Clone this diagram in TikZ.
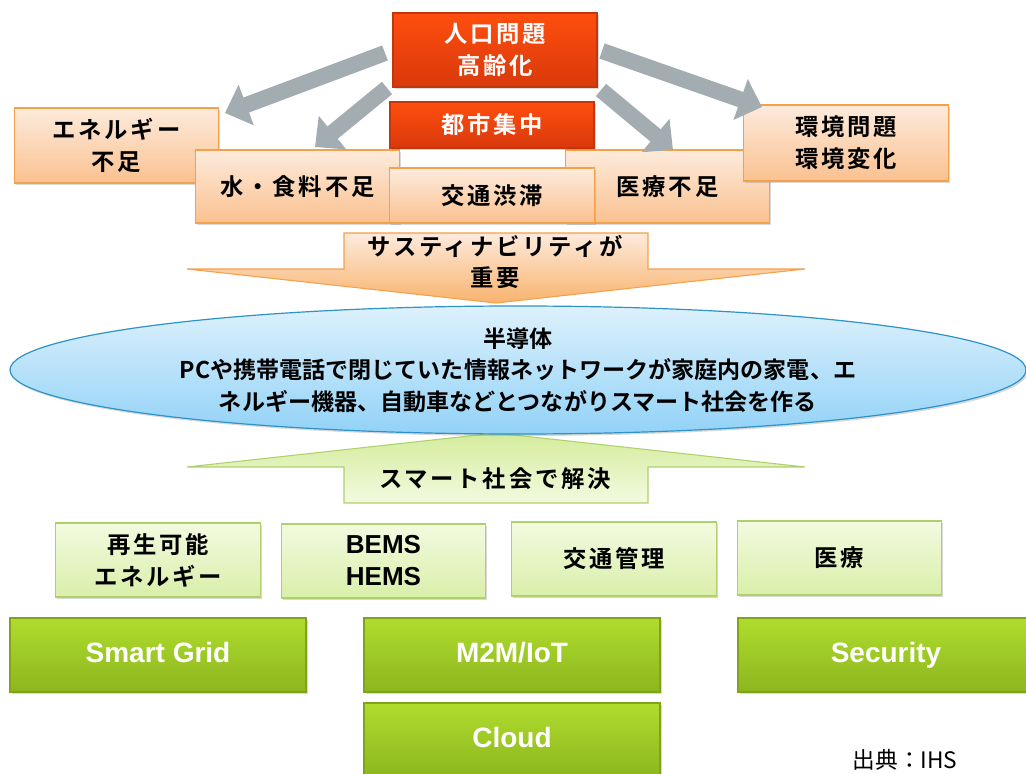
\documentclass[tikz,border=0pt]{standalone}
\usepackage{fontspec}
\setmainfont{Liberation Sans}
\newfontfamily\jp{Noto Sans CJK JP}
\newfontfamily\jpb{Noto Sans CJK JP Bold}
\newfontfamily\jpw{Noto Sans CJK JP Bold}[LetterSpace=12]
\usetikzlibrary{arrows.meta,shapes.geometric,shadows}
\definecolor{redT}{HTML}{FF4E0E}
\definecolor{redB}{HTML}{D8390C}
\definecolor{redD}{HTML}{C0360E}
\definecolor{orT}{HTML}{FDEBDC}
\definecolor{orB}{HTML}{FAC190}
\definecolor{orD}{HTML}{F5A04A}
\definecolor{orA}{HTML}{F8B36E}
\definecolor{lgT}{HTML}{F3FAE0}
\definecolor{lgB}{HTML}{D9EFAA}
\definecolor{lgD}{HTML}{AFD16B}
\definecolor{lgA}{HTML}{D4EC9C}
\definecolor{dgT}{HTML}{B0DC2E}
\definecolor{dgB}{HTML}{8CB61E}
\definecolor{dgD}{HTML}{7FA31B}
\definecolor{arrG}{HTML}{A3ACB0}
\definecolor{blT}{HTML}{DDF1FC}
\definecolor{blB}{HTML}{92D2F7}
\definecolor{blD}{HTML}{2D93C8}
\tikzset{
  base/.style={draw, line width=0.9pt, inner sep=0pt, align=center,
    drop shadow={shadow xshift=1.2pt, shadow yshift=-1.5pt, opacity=0.3}},
  redbox/.style={base, draw=redD, top color=redT, bottom color=redB, text=white,
    font=\jpw\fontsize{17.5}{24.5}\selectfont, minimum width=153pt},
  orbox/.style={base, draw=orD, top color=orT, bottom color=orB,
    font=\jpw\fontsize{17.5}{24}\selectfont, minimum width=153.5pt},
  lgbox/.style={base, draw=lgD, top color=lgT, bottom color=lgB,
    font=\jpw\fontsize{17.5}{24}\selectfont, minimum width=153.5pt, minimum height=55.5pt},
  dgbox/.style={base, draw=dgD, top color=dgT, bottom color=dgB, text=white,
    font=\bfseries\fontsize{21}{24}\selectfont, minimum width=222pt, minimum height=55.5pt,
    text height=15pt, text depth=4pt},
  latbox/.style={font=\bfseries\fontsize{19.5}{24}\selectfont},
  grayarrow/.style={draw=arrG, line width=12pt, -{Triangle[length=17pt,width=31.5pt]}},
  jptext/.style={font=\jpw\fontsize{17.5}{24}\selectfont, inner sep=0pt},
}
\begin{document}
\begin{tikzpicture}[x=0.75pt,y=-0.75pt]
\useasboundingbox (0,0) rectangle (1026,774);
\clip (0,0) rectangle (1026,774);

% orange problem boxes
\node[orbox, minimum height=56.25pt] (ene) at (116.5,145.5) {エネルギー\\不足};
\node[orbox, minimum height=54.75pt] (water) at (297.5,186.5) {水・食料不足};
\node[orbox, minimum height=54.75pt] (med) at (667.5,186.5) {医療不足};
\node[orbox, minimum height=41.25pt] (traffic) at (492,195.5) {交通渋滞};
\node[orbox, minimum height=57pt] (env) at (846,143) {環境問題\\環境変化};

% gray arrows
\coordinate (a1s) at (385,53);  \coordinate (a1e) at (225,113);
\coordinate (a2s) at (387,88);  \coordinate (a2e) at (315,147);
\coordinate (a3s) at (602,51);  \coordinate (a3e) at (762,107);
\coordinate (a4s) at (601,90);  \coordinate (a4e) at (673,150);
\draw[grayarrow] (a1s) -- (a1e);
\draw[grayarrow] (a2s) -- (a2e);
\draw[grayarrow] (a3s) -- (a3e);
\draw[grayarrow] (a4s) -- (a4e);

% red boxes
\node[redbox, minimum height=55.5pt] (pop) at (495,50) {人口問題\\高齢化};
\node[redbox, minimum height=34.5pt] (city) at (492,125) {都市集中};

% orange down arrow
\draw[draw=orD, line width=0.8pt, top color=orT, bottom color=orA]
  (344,233) -- (648,233) -- (648,269) -- (805,269) -- (496,303) -- (187,269) -- (344,269) -- cycle;
\node[jptext] (sus) at (495,246) {サスティナビリティが};
\node[jptext] (imp) at (495,278) {重要};

% green up arrow
\draw[draw=lgD, line width=0.8pt, top color=lgA, bottom color=lgT]
  (496,433) -- (805,467) -- (648,467) -- (648,503) -- (344,503) -- (344,467) -- (187,467) -- cycle;

% ellipse
\node[ellipse, draw=blD, line width=0.9pt, top color=blT, bottom color=blB,
  minimum width=762pt, minimum height=96pt, inner sep=0pt, align=center,
  drop shadow={shadow xshift=1.2pt, shadow yshift=-1.5pt, opacity=0.3},
  font=\jpb\fontsize{17.3}{23.5}\selectfont] (semi) at (518,370)
  {半導体\\PCや携帯電話で閉じていた情報ネットワークが家庭内の家電、エ\\ネルギー機器、自動車などとつながりスマート社会を作る};

\node[jptext] (smart) at (495,479) {スマート社会で解決};

% light green boxes
\node[lgbox] (ren) at (158,560) {再生可能\\エネルギー};
\node[lgbox, latbox] (bems) at (383.5,561) {BEMS\\HEMS};
\node[lgbox] (tman) at (614,559) {交通管理};
\node[lgbox] (iryo) at (839.5,558) {医療};

% dark green boxes
\node[dgbox] (sg) at (158,655) {Smart Grid};
\node[dgbox] (m2m) at (512,655) {M2M/IoT};
\node[dgbox] (sec) at (886,655) {Security};
\node[dgbox] (cloud) at (512,740) {Cloud};

\node[font=\jp\fontsize{17}{17}\selectfont, inner sep=0pt] (src) at (905,760) {出典：IHS};
\end{tikzpicture}
\end{document}
